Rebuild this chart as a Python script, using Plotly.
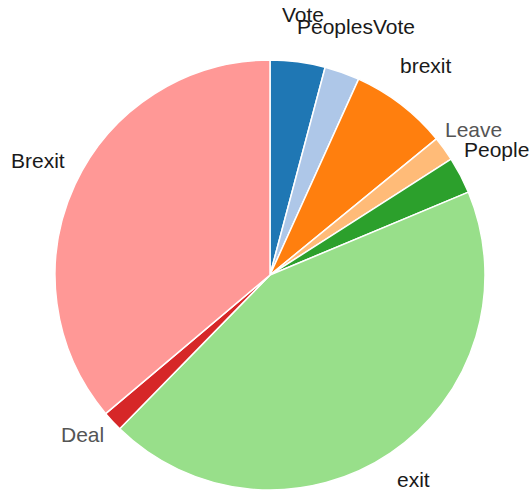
import math
import plotly.graph_objects as go

labels = ["Vote", "PeoplesVote", "brexit", "Leave", "People", "exit", "Deal", "Brexit"]
values = [4.13, 2.63, 7.32, 1.85, 2.77, 43.6, 1.53, 36.14]
colors = ["#1f77b4", "#aec7e8", "#ff7f0e", "#ffbb78", "#2ca02c", "#98df8a", "#d62728", "#ff9896"]
text_colors = ["#1a1a1a", "#1a1a1a", "#1a1a1a", "#555555", "#1a1a1a", "#1a1a1a", "#555555", "#1a1a1a"]

# small pixel nudges for a couple of labels (style only)
nudge = {"Leave": (-4, -12), "Deal": (0, 8)}

fig = go.Figure(go.Pie(
    labels=labels,
    values=values,
    sort=False,
    direction="clockwise",
    rotation=0,
    marker=dict(colors=colors, line=dict(color="white", width=1.5)),
    textinfo="none",
    showlegend=False,
    hoverinfo="label+value",
    automargin=False,
    domain=dict(x=[0, 1], y=[0, 1]),
))

# labels placed (baseline) at ~1.19 x radius along each slice's mid angle
total = sum(values)
cum = 0.0
label_r = 0.5 * 1.19
for lab, v, tc in zip(labels, values, text_colors):
    mid = (cum + v / 2) / total * 2 * math.pi
    cum += v
    nx, ny = nudge.get(lab, (0, 0))
    fig.add_annotation(
        x=0.5 + label_r * math.sin(mid),
        y=0.5 + label_r * math.cos(mid),
        xref="paper", yref="paper",
        text=lab, showarrow=False,
        xanchor="center", yanchor="middle",
        xshift=nx, yshift=7 + ny,
        font=dict(family="Liberation Sans, Arial, sans-serif", size=21, color=tc),
    )

fig.update_layout(
    width=531, height=492,
    margin=dict(l=55, r=46, t=60, b=2),
    paper_bgcolor="white",
    plot_bgcolor="white",
)
fig.write_html("out.html")
